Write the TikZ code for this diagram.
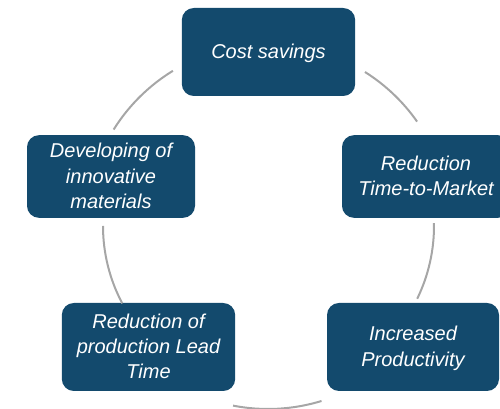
\documentclass[tikz,border=0pt]{standalone}
\usepackage{fontspec}
\setmainfont{Liberation Sans}
\definecolor{boxblue}{HTML}{134A6D}
\definecolor{ringgray}{HTML}{A6A6A6}

\begin{document}
\begin{tikzpicture}[
        x=0.75pt, y=0.75pt,
        stage/.style={rectangle, rounded corners=9pt, fill=boxblue, text=white, align=center, font=\fontsize{15}{19}\selectfont\itshape, inner sep=0pt, text depth=1pt},
        ring/.style={draw=ringgray, line width=1.5pt}
    ]
        \useasboundingbox (0,0) rectangle (500,409);
        \clip (0,0) rectangle (500,409);

        % Centre of the cycle
        \coordinate (hub) at (268,183);

        % Stages
        \node[stage, minimum width=130pt, minimum height=66pt] (cost) at (268.5,357) {Cost savings};
        \node[stage, minimum width=126pt, minimum height=62pt] (ttm) at (426,232.5) {Reduction\\Time-to-Market};
        \node[stage, minimum width=129pt, minimum height=66pt] (prod) at (413,62) {Increased\\Productivity};
        \node[stage, minimum width=130pt, minimum height=66pt] (lead) at (148.5,62) {Reduction of\\production Lead\\Time};
        \node[stage, minimum width=126pt, minimum height=62pt] (dev) at (111,232.5) {Developing of\\innovative\\materials};

        % Connecting arcs
        \draw[ring] ([shift={(148:182)}]hub) arc[start angle=148, end angle=121.5, radius=182];
        \draw[ring] ([shift={(57.8:182)}]hub) arc[start angle=57.8, end angle=35, radius=182];
        \draw[ring] ([shift={(1:166)}]hub) arc[start angle=1, end angle=-26, radius=166];
        \draw[ring] ([shift={(259:183)}]hub) arc[start angle=259, end angle=287, radius=183];
        \draw[ring] ([shift={(180:165)}]hub) arc[start angle=180, end angle=208, radius=165];

    \end{tikzpicture}
\end{document}
